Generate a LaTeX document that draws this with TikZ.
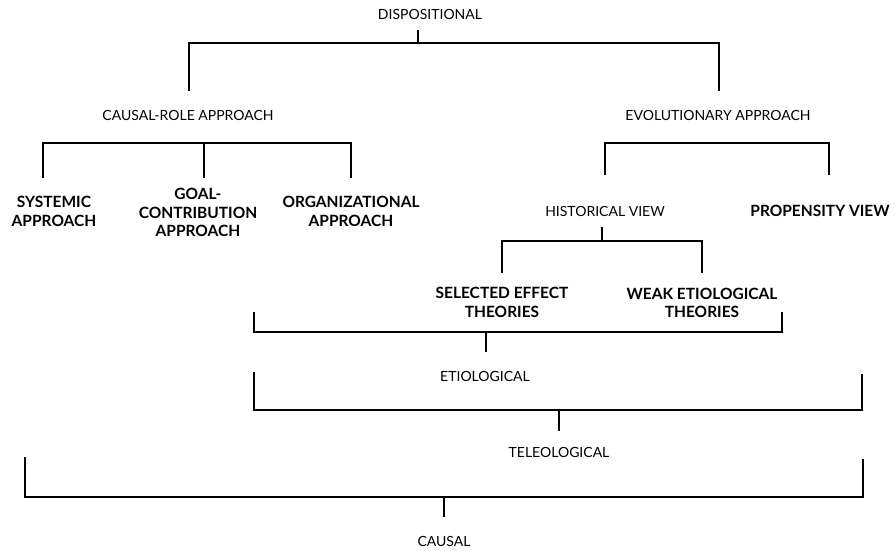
\documentclass[tikz,border=0pt]{standalone}
\usepackage{fontspec}
\setmainfont{Lato}
\usetikzlibrary{positioning}

\begin{document}
\begin{tikzpicture}[x=1pt,y=-1pt,
    lbl/.style={inner sep=0pt,align=center,font=\fontsize{14}{18.5}\selectfont},
    blbl/.style={lbl,font=\fontsize{15.5}{18.5}\selectfont\bfseries},
    bar/.style={line width=2.6pt}]
  \useasboundingbox (0,0) rectangle (896,550);
  % labels
  \node[lbl] (disp) at (430,14) {DISPOSITIONAL};
  \node[lbl] (crole) at (188,115) {CAUSAL-ROLE APPROACH};
  \node[lbl] (evol) at (718,115) {EVOLUTIONARY APPROACH};
  \node[blbl] (syst) at (54,211.5) {SYSTEMIC\\APPROACH};
  \node[blbl] (goal) at (198,212.5) {GOAL-\\CONTRIBUTION\\APPROACH};
  \node[blbl] (orga) at (351,211.5) {ORGANIZATIONAL\\APPROACH};
  \node[lbl] (hist) at (605,211) {HISTORICAL VIEW};
  \node[blbl] (prop) at (820,211) {PROPENSITY VIEW};
  \node[blbl] (sel) at (502,302.5) {SELECTED EFFECT\\THEORIES};
  \node[blbl] (weak) at (702,303) {WEAK ETIOLOGICAL\\THEORIES};
  \node[lbl] (etio) at (485,376) {ETIOLOGICAL};
  \node[lbl] (tele) at (559,452) {TELEOLOGICAL};
  \node[lbl] (caus) at (444,541) {CAUSAL};
  % bracket ends
  \coordinate (disp-t) at (418,30);  \coordinate (disp-m) at (418,43);
  \coordinate (disp-l) at (189,91);  \coordinate (disp-r) at (719,91);
  \coordinate (crole-m) at (204,143);
  \coordinate (crole-l) at (43,178); \coordinate (crole-c) at (204,178);
  \coordinate (crole-r) at (351,178);
  \coordinate (evol-m) at (605,143);
  \coordinate (evol-l) at (605,175); \coordinate (evol-r) at (829,175);
  \coordinate (hist-t) at (602,227); \coordinate (hist-m) at (602,241);
  \coordinate (hist-l) at (502,273); \coordinate (hist-r) at (702,273);
  \coordinate (etio-b) at (486,352); \coordinate (etio-m) at (486,332);
  \coordinate (etio-l) at (254,312); \coordinate (etio-r) at (782,312);
  \coordinate (tele-b) at (559,431); \coordinate (tele-m) at (559,410);
  \coordinate (tele-l) at (254,372); \coordinate (tele-r) at (862,374);
  \coordinate (caus-b) at (444,517); \coordinate (caus-m) at (444,497);
  \coordinate (caus-l) at (25,457);  \coordinate (caus-r) at (863,459);
  % brackets
  \draw[bar] (disp-t) -- (disp-m);
  \draw[bar] (disp-l) |- (disp-m) -| (disp-r);
  \draw[bar] (crole-l) |- (crole-m) -| (crole-r);
  \draw[bar] (crole-m) -- (crole-c);
  \draw[bar] (evol-l) -- (evol-m) -| (evol-r);
  \draw[bar] (hist-t) -- (hist-m);
  \draw[bar] (hist-l) |- (hist-m) -| (hist-r);
  \draw[bar] (etio-l) |- (etio-m) -| (etio-r);
  \draw[bar] (etio-m) -- (etio-b);
  \draw[bar] (tele-l) |- (tele-m) -| (tele-r);
  \draw[bar] (tele-m) -- (tele-b);
  \draw[bar] (caus-l) |- (caus-m) -| (caus-r);
  \draw[bar] (caus-m) -- (caus-b);
\end{tikzpicture}
\end{document}
